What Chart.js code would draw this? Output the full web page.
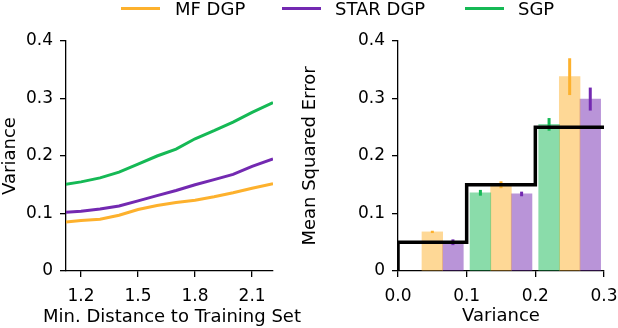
<!DOCTYPE html>
<html>
<head>
<meta charset="utf-8">
<script src="https://cdn.jsdelivr.net/npm/chart.js@4"></script>
<style>
  body { margin: 0; background: #fff; }
  #wrap { position: relative; width: 618px; height: 328px; font-family: 'DejaVu Sans', sans-serif; }
  canvas { position: absolute; top: 0; }
  .key { position: absolute; top: 0; height: 18px; font-size: 18px; line-height: 18px; color: #000; white-space: nowrap; }
  .key i { position: absolute; top: 7px; width: 39px; height: 3px; }
  .key span { position: absolute; top: 0; }
  #distTitle { position: absolute; left: 0; width: 344px; top: 305px; text-align: center; font-size: 18px; line-height: 22px; color: #000; white-space: nowrap; }
</style>
</head>
<body>
<div id="wrap">
  <canvas id="dist_chart" width="290" height="328" style="left:0"></canvas>
  <canvas id="mse_chart" width="318" height="328" style="left:300px"></canvas>
  <div class="key" style="left:121px"><i style="background:#fdb12d"></i><span style="left:54px">MF DGP</span></div>
  <div class="key" style="left:282px"><i style="background:#7329b1"></i><span style="left:53px">STAR DGP</span></div>
  <div class="key" style="left:465px"><i style="background:#15b955"></i><span style="left:53px">SGP</span></div>
  <div id="distTitle">Min. Distance to Training Set</div>
</div>
<script>
// left panel: predictive variance vs distance
var distX = [1.12, 1.2, 1.3, 1.4, 1.5, 1.6, 1.7, 1.8, 1.9, 2.0, 2.1, 2.21];
var mfVar = [0.085, 0.088, 0.090, 0.097, 0.107, 0.114, 0.119, 0.123, 0.129, 0.136, 0.144, 0.152];
var starVar = [0.102, 0.104, 0.108, 0.113, 0.122, 0.131, 0.140, 0.150, 0.159, 0.168, 0.182, 0.195];
var sgpVar = [0.151, 0.155, 0.162, 0.172, 0.186, 0.200, 0.212, 0.230, 0.244, 0.259, 0.276, 0.293];
var distTicks = [1.2, 1.5, 1.8, 2.1];

// right panel: MSE per variance bin
var sgpX = [0.02, 0.12, 0.22];
var mfX = [0.05, 0.15, 0.25];
var starX = [0.08, 0.18, 0.28];
var sgpMse = [null, 0.136, 0.255];
var mfMse = [0.068, 0.150, 0.338];
var starMse = [0.050, 0.134, 0.299];
var sgpErr = [0, 0.005, 0.011];
var mfErr = [0.002, 0.006, 0.032];
var starErr = [0.005, 0.004, 0.020];
var stepX = [0, 0, 0.1, 0.1, 0.2, 0.2, 0.3];
var stepY = [0, 0.05, 0.05, 0.15, 0.15, 0.25, 0.25];
var mseTicks = [0, 0.1, 0.2, 0.3];
var yTicks = [0, 0.1, 0.2, 0.3, 0.4];

var orange = '#fdb12d', purple = '#7329b1', green = '#15b955';

Chart.defaults.font.family = 'DejaVu Sans';
Chart.defaults.font.size = 17;
Chart.defaults.color = '#000';

function pts(xs, ys) {
    return xs.map(function(x, i) { return {x: x, y: ys[i]}; });
}

function axisStyle() {
    return {
        grid: { display: true, drawOnChartArea: false, drawTicks: true, tickLength: 6, color: '#000', lineWidth: 1.3 },
        border: { display: true, color: '#000', width: 1.3 }
    };
}

function yAxis(title, width) {
    var a = axisStyle();
    a.type = 'linear';
    a.min = 0;
    a.max = 0.4;
    a.afterBuildTicks = function(s) { s.ticks = yTicks.map(function(v) { return {value: v}; }); };
    a.afterFit = function(s) { s.width = width; s.paddingTop = 0; s.paddingBottom = 0; };
    a.ticks = { padding: 7, callback: function(v) { return v === 0 ? '0' : v.toFixed(1); } };
    a.title = { display: true, text: title, font: { size: 18 }, padding: { top: 0, bottom: 0 } };
    return a;
}

function xAxis(title, min, max, ticks) {
    var a = axisStyle();
    a.type = 'linear';
    a.min = min;
    a.max = max;
    a.offset = false;
    a.grid.offset = false;
    a.afterBuildTicks = function(s) { s.ticks = ticks.map(function(v) { return {value: v}; }); };
    // fixed height, and no extra room reserved for the end labels
    a.afterFit = function(s) { s.height = 57; s.paddingLeft = 0; s.paddingRight = 0; };
    a.ticks = { padding: 9, maxRotation: 0, callback: function(v) { return v.toFixed(1); } };
    a.title = { display: !!title, text: title, font: { size: 18 }, padding: { top: 0, bottom: 1 } };
    return a;
}

function lineSet(label, ys, color) {
    return { label: label, data: pts(distX, ys), borderColor: color, borderWidth: 3, pointRadius: 0, tension: 0, fill: false };
}

new Chart(document.getElementById('dist_chart'), {
    type: 'line',
    data: { datasets: [lineSet('MF DGP', mfVar, orange), lineSet('STAR DGP', starVar, purple), lineSet('SGP', sgpVar, green)] },
    options: {
        responsive: false,
        animation: false,
        devicePixelRatio: 1,
        layout: { padding: { top: 41, right: 17, left: 0, bottom: 0 } },
        plugins: { legend: { display: false }, tooltip: { enabled: false } },
        scales: {
            x: xAxis('', 1.121, 2.21, distTicks),
            y: yAxis('Variance', 66)
        }
    }
});

// error bars drawn just before the step line so the line sits on top
var errorBars = {
    id: 'errorBars',
    beforeDatasetDraw: function(chart, args) {
        if (args.index !== 3) return;
        var ctx = chart.ctx, xs = chart.scales.x, ys = chart.scales.y;
        var sets = [[sgpX, sgpMse, sgpErr, green], [mfX, mfMse, mfErr, orange], [starX, starMse, starErr, purple]];
        ctx.save();
        ctx.lineWidth = 3;
        sets.forEach(function(s) {
            s[0].forEach(function(x, i) {
                if (s[1][i] === null) return;
                var px = xs.getPixelForValue(x);
                ctx.strokeStyle = s[3];
                ctx.beginPath();
                ctx.moveTo(px, ys.getPixelForValue(s[1][i] - s[2][i]));
                ctx.lineTo(px, ys.getPixelForValue(s[1][i] + s[2][i]));
                ctx.stroke();
            });
        });
        ctx.restore();
    }
};

function barSet(label, xs, ys, color) {
    return { type: 'bar', label: label, data: pts(xs, ys), backgroundColor: color + '80', borderWidth: 0, barThickness: 20.7, grouped: false, order: 1 };
}

new Chart(document.getElementById('mse_chart'), {
    type: 'bar',
    data: {
        datasets: [
            barSet('SGP', sgpX, sgpMse, green),
            barSet('MF DGP', mfX, mfMse, orange),
            barSet('STAR DGP', starX, starMse, purple),
            { type: 'line', label: 'true', data: pts(stepX, stepY), borderColor: '#000', borderWidth: 3.5, pointRadius: 0, tension: 0, fill: false, order: 0 }
        ]
    },
    options: {
        responsive: false,
        animation: false,
        devicePixelRatio: 1,
        layout: { padding: { top: 41, right: 14, left: 0, bottom: 0 } },
        plugins: { legend: { display: false }, tooltip: { enabled: false } },
        scales: {
            x: xAxis('Variance', 0, 0.3, mseTicks),
            y: yAxis('Mean Squared Error', 98)
        }
    },
    plugins: [errorBars]
});
</script>
</body>
</html>
